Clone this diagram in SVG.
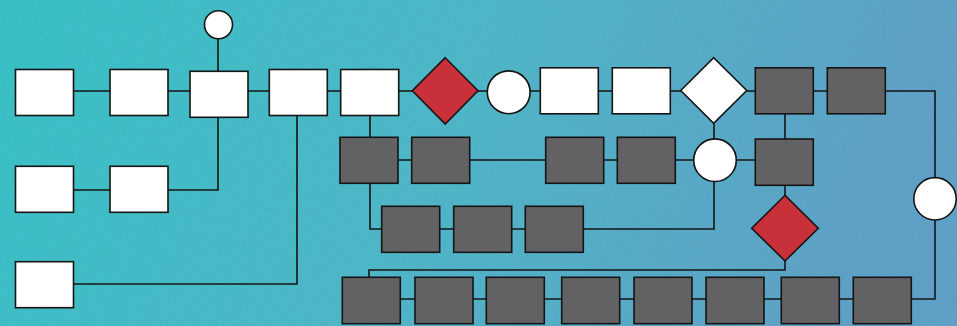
<svg xmlns="http://www.w3.org/2000/svg" width="957" height="326" viewBox="0 0 957 326">
<defs>
<linearGradient id="bg" x1="0" y1="0" x2="1" y2="0.15">
<stop offset="0" stop-color="#34c6c7"/>
<stop offset="0.5" stop-color="#4dbac9"/>
<stop offset="1" stop-color="#5fa2c8"/>
</linearGradient>
<filter id="noise" x="0" y="0" width="100%" height="100%">
<feTurbulence type="fractalNoise" baseFrequency="0.35" numOctaves="2" seed="3" result="t"/>
<feColorMatrix type="matrix" values="0 0 0 0 0.1  0 0 0 0 0.25  0 0 0 0 0.4  0 0 0 0.3 -0.06"/>
</filter>
<style>
.w{fill:#ffffff;stroke:#151515;stroke-width:1.6}
.d{fill:#626264;stroke:#151515;stroke-width:1.6}
.r{fill:#c8313a;stroke:#151515;stroke-width:1.6}
.c path{fill:none;stroke:#151515;stroke-width:1.6}
</style>
</defs>
<rect width="957" height="326" fill="url(#bg)"/>
<rect width="957" height="326" filter="url(#noise)"/>
<g class="c" id="connectors">
<path d="M73,91H110M168,91H190M248,91H269M327,91H341M399,91H412M478,91H487M530,91H540M598,91H612M670,91H681M747,91H755M813,91H827"/>
<path d="M885,91H935V178M935,220V299H911"/>
<path d="M218,39V71M168,190H218V117M73,190H110M73,284H297V116"/>
<path d="M370,116V137M398,160H412M469,160H546M604,160H617M675,160H694M736,160H755"/>
<path d="M714,124V139M785,114V139M785,185V195"/>
<path d="M370,183V229H382M439,229H454M512,229H525M714,181V229H583"/>
<path d="M785,261V270H369V277"/>
<path d="M400,299H415M473,299H486M544,299H562M620,299H634M692,299H706M764,299H781M839,299H853"/>
</g>
<g id="n1"><rect class="w" x="15.5" y="69.5" width="58" height="46"/></g>
<g id="n2"><rect class="w" x="110" y="69.5" width="58" height="46"/></g>
<g id="n3"><rect class="w" x="190" y="71.3" width="58" height="46"/></g>
<g id="n4"><circle class="w" cx="218.5" cy="24.7" r="14"/></g>
<g id="n5"><rect class="w" x="269.3" y="69.5" width="58" height="46"/></g>
<g id="n6"><rect class="w" x="15.5" y="166.3" width="58" height="46"/></g>
<g id="n7"><rect class="w" x="110" y="166.3" width="58" height="46"/></g>
<g id="n8"><rect class="w" x="15.5" y="261.7" width="58" height="46"/></g>
<g id="n9"><rect class="w" x="340.7" y="69.5" width="58" height="46"/></g>
<g id="n10"><polygon class="r" points="445.2,57.7 478,90.8 445.2,124 412.3,90.8"/></g>
<g id="n11"><circle class="w" cx="508.7" cy="92.3" r="21.4"/></g>
<g id="n12"><rect class="w" x="540.3" y="67.8" width="58" height="46"/></g>
<g id="n13"><rect class="w" x="612.3" y="67.8" width="58" height="46"/></g>
<g id="n14"><polygon class="w" points="713.7,57.7 746.7,90.5 713.7,123.3 680.7,90.5"/></g>
<g id="n15"><rect class="d" x="755.3" y="67.8" width="58" height="46"/></g>
<g id="n16"><rect class="d" x="827.3" y="67.8" width="58" height="46"/></g>
<g id="n17"><circle class="w" cx="935" cy="198.8" r="21.2"/></g>
<g id="n18"><rect class="d" x="340" y="137.3" width="58" height="46"/></g>
<g id="n19"><rect class="d" x="411.7" y="137.3" width="58" height="46"/></g>
<g id="n20"><rect class="d" x="545.7" y="137.3" width="58" height="46"/></g>
<g id="n21"><rect class="d" x="617.3" y="137.3" width="58" height="46"/></g>
<g id="n22"><circle class="w" cx="715" cy="160.2" r="21.3"/></g>
<g id="n23"><rect class="d" x="755.3" y="139" width="58" height="46.3"/></g>
<g id="n24"><polygon class="r" points="785,195.3 818.3,228.2 785,261 751.7,228.2"/></g>
<g id="n25"><rect class="d" x="381.7" y="206.3" width="58" height="46"/></g>
<g id="n26"><rect class="d" x="453.7" y="206.3" width="58" height="46"/></g>
<g id="n27"><rect class="d" x="525.3" y="206.3" width="58" height="46"/></g>
<g id="n28"><rect class="d" x="342.3" y="277.3" width="58" height="46.4"/></g>
<g id="n29"><rect class="d" x="415" y="277.3" width="58" height="46.4"/></g>
<g id="n30"><rect class="d" x="486.3" y="277.3" width="58" height="46.4"/></g>
<g id="n31"><rect class="d" x="561.7" y="277.3" width="58" height="46.4"/></g>
<g id="n32"><rect class="d" x="634" y="277.3" width="58" height="46.4"/></g>
<g id="n33"><rect class="d" x="706" y="277.3" width="58" height="46.4"/></g>
<g id="n34"><rect class="d" x="781.3" y="277.3" width="58" height="46.4"/></g>
<g id="n35"><rect class="d" x="853.3" y="277.3" width="58" height="46.4"/></g>
</svg>
